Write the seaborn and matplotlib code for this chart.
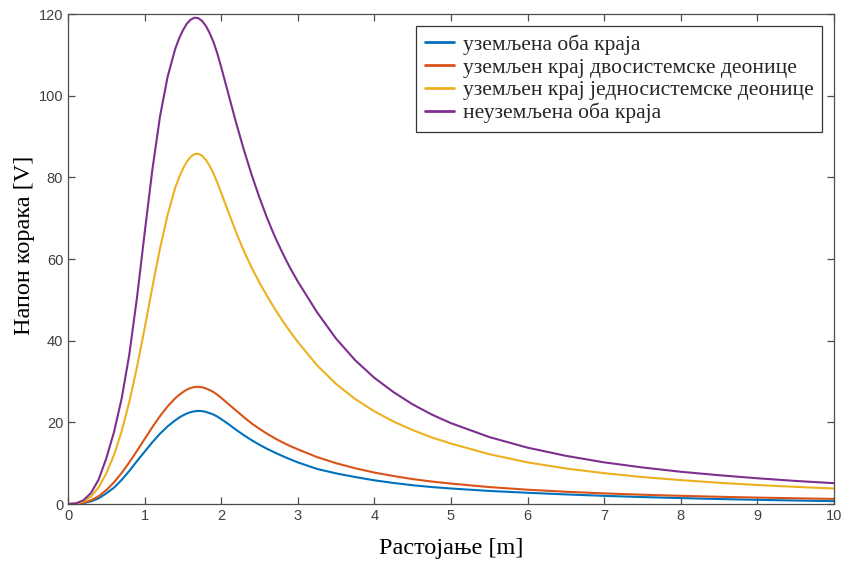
import pandas as pd
import matplotlib
matplotlib.use("Agg")
import matplotlib.pyplot as plt
import seaborn as sns

# distance [m]
rastojanje = [0, 0.1, 0.2, 0.3, 0.4, 0.5, 0.6, 0.7, 0.8, 0.9,
              1.0, 1.1, 1.2, 1.3, 1.4, 1.45, 1.5, 1.55, 1.6, 1.65,
              1.7, 1.75, 1.8, 1.85, 1.9, 1.95, 2.0,
              2.1, 2.2, 2.3, 2.4, 2.5, 2.6, 2.7, 2.8, 2.9,
              3.0, 3.25, 3.5, 3.75, 4.0, 4.25, 4.5, 4.75, 5.0,
              5.5, 6.0, 6.5, 7.0, 7.5, 8.0, 8.5, 9.0, 9.5, 10.0]

# step voltage [V]
oba_kraja = [0, 0.03, 0.2, 0.65, 1.4, 2.6, 4.0, 5.9, 8.1, 10.5,
             12.8, 15.1, 17.2, 19.0, 20.5, 21.15, 21.7, 22.15, 22.5, 22.7,
             22.8, 22.75, 22.55, 22.25, 21.9, 21.4, 20.8,
             19.5, 18.1, 16.8, 15.6, 14.5, 13.5, 12.6, 11.75, 10.95,
             10.2, 8.6, 7.5, 6.6, 5.8, 5.15, 4.6, 4.15, 3.8,
             3.2, 2.75, 2.35, 2.0, 1.7, 1.45, 1.22, 1.02, 0.85, 0.7]

dvosistemske = [0, 0.05, 0.3, 0.9, 1.9, 3.4, 5.3, 7.6, 10.2, 13.0,
                15.9, 18.8, 21.5, 23.9, 25.9, 26.7, 27.4, 28.0, 28.4, 28.65,
                28.7, 28.6, 28.3, 27.9, 27.4, 26.75, 26.0,
                24.4, 22.8, 21.2, 19.7, 18.4, 17.2, 16.1, 15.1, 14.2,
                13.4, 11.5, 10.0, 8.75, 7.7, 6.85, 6.1, 5.5, 5.0,
                4.15, 3.5, 3.0, 2.6, 2.27, 2.0, 1.77, 1.57, 1.4, 1.25]

jednosistemske = [0, 0.1, 0.6, 1.8, 4.1, 7.5, 12.0, 17.8, 25.0, 33.5,
                  43.0, 53.0, 62.5, 70.8, 77.5, 80.0, 82.1, 83.8, 85.0, 85.7,
                  85.8, 85.3, 84.3, 82.8, 80.9, 78.7, 76.2,
                  71.2, 66.3, 61.8, 57.8, 54.2, 50.9, 47.8, 44.9, 42.2,
                  39.7, 34.0, 29.4, 25.7, 22.7, 20.2, 18.1, 16.3, 14.8,
                  12.2, 10.2, 8.7, 7.55, 6.6, 5.85, 5.2, 4.65, 4.2, 3.8]

neuzemljena = [0, 0.15, 0.9, 2.7, 6.0, 11.2, 17.6, 25.8, 36.6, 50.5,
               66.3, 81.7, 94.8, 104.6, 111.5, 114.0, 116.0, 117.6, 118.6, 119.1,
               119.0, 118.3, 117.1, 115.3, 113.1, 110.3, 107.0,
               100.0, 93.0, 86.5, 80.5, 75.0, 70.0, 65.5, 61.5, 57.8,
               54.5, 47.0, 40.5, 35.2, 30.9, 27.4, 24.4, 21.9, 19.8,
               16.4, 13.8, 11.8, 10.2, 8.95, 7.9, 7.05, 6.3, 5.65, 5.1]

nazivi = ["уземљена оба краја",
          "уземљен крај двосистемске деонице",
          "уземљен крај једносистемске деонице",
          "неуземљена оба краја"]
boje = ["#0072BD", "#D95319", "#EDB120", "#7E2F8E"]

serije = [oba_kraja, dvosistemske, jednosistemske, neuzemljena]
df = pd.concat([pd.DataFrame({"x": rastojanje, "y": s, "serija": n})
                for s, n in zip(serije, nazivi)], ignore_index=True)

sns.set_style("ticks")
plt.rcParams['font.family'] = ['Liberation Sans', 'DejaVu Sans']

fig = plt.figure(figsize=(8.44, 5.61), dpi=100)
ax = fig.add_axes([0.0806, 0.1016, 0.9074, 0.8734])

sns.lineplot(data=df, x="x", y="y", hue="serija", hue_order=nazivi,
             palette=boje, linewidth=1.5, ax=ax, sort=False)
for ln in ax.get_lines():
    ln.set_solid_joinstyle("round")

ax.set_xlim(0, 10)
ax.set_ylim(0, 120)
ax.set_xticks(range(0, 11))
ax.set_yticks(range(0, 121, 20))

siva = "#4d4d4d"
for sp in ax.spines.values():
    sp.set_visible(True)
    sp.set_color(siva)
    sp.set_linewidth(0.9)
ax.tick_params(direction="in", length=5, width=0.9, colors=siva,
               labelsize=10.5, top=True, right=True, labelcolor="#404040")

serif = ['Liberation Serif', 'DejaVu Serif']
ax.set_xlabel("Растојање [m]", family=serif, fontsize=17.5, color="black", labelpad=11)
ax.set_ylabel("Напон корака [V]", family=serif, fontsize=17.5, color="black")
ax.yaxis.set_label_coords(-0.043, 0.527)

leg = ax.legend(loc="upper right", prop={"family": serif, "size": 15.5},
                frameon=True, fancybox=False, framealpha=1, edgecolor="#333333",
                borderaxespad=0.55, handlelength=1.35, handletextpad=0.4,
                labelspacing=0.12, borderpad=0.4)
leg.get_frame().set_linewidth(0.9)
for h in leg.get_lines():
    h.set_linewidth(2.0)

fig.savefig("out.png", dpi=100)
